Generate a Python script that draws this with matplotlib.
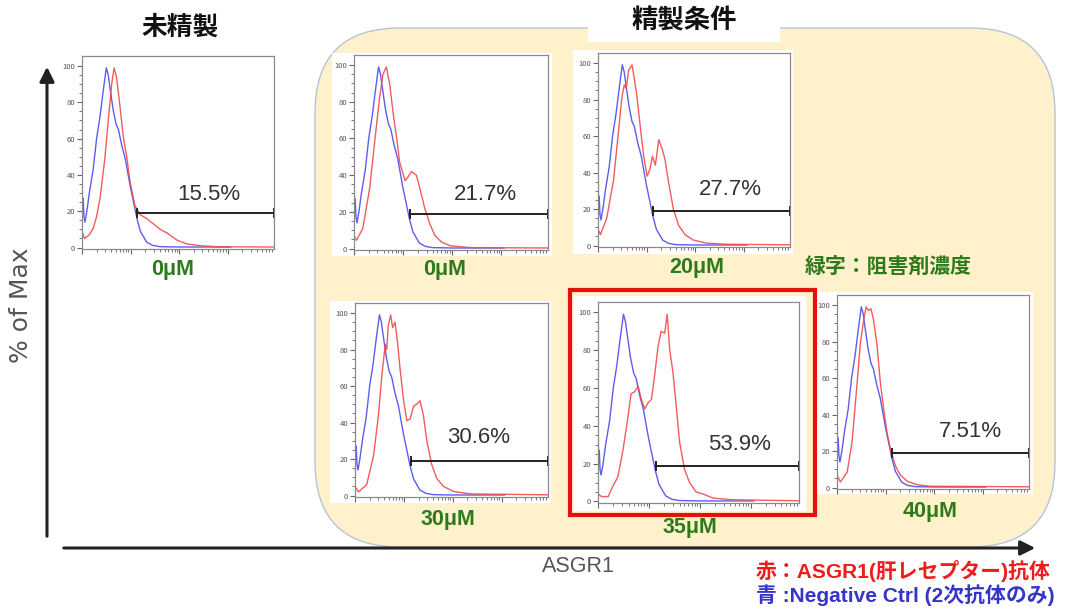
import matplotlib
matplotlib.use("Agg")
import matplotlib.pyplot as plt
from matplotlib.patches import FancyBboxPatch, Rectangle
from matplotlib.ticker import FixedLocator, NullFormatter
import numpy as np

plt.rcParams['font.family'] = ['Noto Sans CJK JP', 'DejaVu Sans']

# ---- data: ASGR1 staining histograms (% of Max vs. log fluorescence, decades) ----
BLUE_X = [0.0, 0.0, 0.01, 0.025, 0.04, 0.06, 0.10, 0.15, 0.23, 0.30, 0.37, 0.44, 0.50, 0.54,
          0.57, 0.64, 0.70, 0.75, 0.82, 0.89, 0.99, 1.06, 1.13, 1.20, 1.33, 1.45, 1.60, 2.0,
          2.5, 3.06]
BLUE_Y = [0, 55, 20, 27, 17, 14, 20, 30, 43, 60, 72, 87, 99, 95,
          89, 76, 68, 65, 56, 49, 34, 25, 16, 9, 3, 1.2, 0.5, 0.3,
          0.3, 0.3]

RED_UNPURIFIED_X = [0, 0.05, 0.15, 0.23, 0.30, 0.37, 0.47, 0.54, 0.61, 0.66, 0.71, 0.78, 0.85,
                    0.92, 0.99, 1.09, 1.20, 1.33, 1.47, 1.61, 1.75, 1.96, 2.16, 2.44, 2.79, 3.95]
RED_UNPURIFIED_Y = [9, 5, 7, 10.5, 17, 27, 49, 70, 90, 99, 94, 78, 61,
                    50, 36, 23, 18, 16, 13, 10, 8, 4, 2, 1, 0.4, 0.3]

RED_0UM_X = [0, 0.05, 0.18, 0.32, 0.42, 0.52, 0.59, 0.66, 0.73, 0.80, 0.87, 0.93, 1.04, 1.10,
             1.17, 1.27, 1.34, 1.44, 1.55, 1.65, 1.78, 1.96, 2.36, 3.95]
RED_0UM_Y = [7, 4.5, 11, 33, 58, 82, 95, 99, 89, 73, 60, 47, 37, 39,
             42, 40, 33, 22, 13, 7, 3.6, 1.5, 0.5, 0.3]

RED_20UM_X = [0, 0.05, 0.18, 0.32, 0.42, 0.49, 0.54, 0.58, 0.63, 0.70, 0.75, 0.80, 0.87, 0.94,
              1.01, 1.07, 1.12, 1.18, 1.25, 1.32, 1.38, 1.45, 1.55, 1.66, 1.79, 1.96, 2.24,
              2.65, 3.95]
RED_20UM_Y = [9, 6, 15, 36, 62, 81, 88, 86, 96, 99, 91, 82, 65, 49,
              38, 42, 49, 44, 58, 53, 47, 35, 20, 11, 6, 3, 1.3,
              0.7, 0.4]

RED_30UM_X = [0, 0.07, 0.24, 0.38, 0.48, 0.55, 0.62, 0.65, 0.68, 0.73, 0.77, 0.82, 0.87, 0.92,
              0.99, 1.06, 1.13, 1.20, 1.26, 1.33, 1.40, 1.47, 1.57, 1.67, 1.81, 2.02, 2.36, 3.95]
RED_30UM_Y = [5, 2, 6, 22, 44, 66, 83, 80, 93, 99, 92, 95, 84, 70,
              53, 41, 42, 49, 50, 52, 44, 30, 17, 9.5, 5, 2.2, 0.9, 0.4]

RED_35UM_X = [0, 0.07, 0.20, 0.29, 0.39, 0.49, 0.59, 0.65, 0.72, 0.79, 0.85, 0.92, 0.98, 1.05,
              1.11, 1.18, 1.24, 1.31, 1.36, 1.41, 1.47, 1.54, 1.60, 1.70, 1.80, 1.93, 2.06,
              2.26, 2.65, 3.95]
RED_35UM_Y = [4, 2.6, 2.6, 8, 13, 27, 45, 57, 58, 61, 54, 49, 52, 54,
              66, 82, 90, 89, 99, 80, 69, 50, 32, 17, 10, 5, 4,
              1.8, 0.9, 0.4]

RED_40UM_X = [0, 0.07, 0.21, 0.31, 0.41, 0.48, 0.55, 0.60, 0.65, 0.70, 0.75, 0.82, 0.89, 0.96,
              1.03, 1.10, 1.20, 1.30, 1.44, 1.64, 1.92, 3.95]
RED_40UM_Y = [7, 3, 8.5, 25, 56, 79, 92, 99, 97, 98, 92, 79, 58, 43,
              30, 21, 12, 7, 3.5, 1.6, 0.7, 0.4]

PERCENT_LABELS = ["15.5%", "21.7%", "27.7%", "30.6%", "53.9%", "7.51%"]
CONC_LABELS = ["0μM", "0μM", "20μM", "30μM", "35μM", "40μM"]
GATE_START = 1.14
GATE_LEVEL = 19
Y_TICKS = [0, 20, 40, 60, 80, 100]

RED_SERIES = [(RED_UNPURIFIED_X, RED_UNPURIFIED_Y), (RED_0UM_X, RED_0UM_Y),
              (RED_20UM_X, RED_20UM_Y), (RED_30UM_X, RED_30UM_Y),
              (RED_35UM_X, RED_35UM_Y), (RED_40UM_X, RED_40UM_Y)]

# ---- layout (pixel boxes: frame, white backing, label position) ----
W, H = 1068, 611
FRAMES = [(82, 56, 274, 249), (354, 55, 548, 250), (598, 53, 790, 247),
          (355, 303, 548, 497), (598, 302, 799, 503), (837, 295, 1029, 489)]
BACKS = [(58, 52, 278, 258), (332, 53, 552, 256), (573, 50, 793, 254),
         (330, 301, 551, 503), (574, 296, 806, 511), (817, 292, 1033, 494)]
CONC_POS = [(173, 270), (445, 270), (697, 268), (448, 520), (690, 527), (930, 511)]
PCT_POS = [(2.61, 29), (2.67, 29.5), (2.72, 30.5), (2.52, 32), (2.79, 30), (2.74, 30.5)]

GREEN = '#2d7a1a'
RED = '#f24a4a'
BLUE = '#4b4bef'
XMAX = 3.95
LATIN = ['Liberation Sans', 'Noto Sans CJK JP', 'DejaVu Sans']

fig = plt.figure(figsize=(W / 100, H / 100), dpi=100)
bg = fig.add_axes([0, 0, 1, 1])
bg.set_xlim(0, W)
bg.set_ylim(H, 0)
bg.axis('off')

# rounded background for the purification conditions
bg.add_patch(FancyBboxPatch((315, 28), 1055 - 315, 547 - 28,
                            boxstyle="round,pad=0,rounding_size=85",
                            facecolor='#fff1cc', edgecolor='#b9c3d6', lw=1.0))
bg.add_patch(Rectangle((588, 0), 192, 42, facecolor='white', edgecolor='none'))

for (x0, y0, x1, y1) in BACKS:
    bg.add_patch(Rectangle((x0, y0), x1 - x0, y1 - y0, facecolor='white', edgecolor='none'))
bg.add_patch(Rectangle((570, 290), 245, 225, facecolor='none', edgecolor='#e3120b', lw=3))

# axis arrows
bg.annotate('', xy=(47, 64), xytext=(47, 539),
            arrowprops=dict(arrowstyle='-|>', lw=2.2, color='#222222', mutation_scale=22))
bg.annotate('', xy=(1038, 548), xytext=(61, 548),
            arrowprops=dict(arrowstyle='-|>', lw=2.2, color='#222222', mutation_scale=22))

bg.text(21, 305, '% of Max', rotation=90, ha='center', va='center', fontsize=18,
        color='#555555', family=['DejaVu Sans'])
bg.text(578, 566, 'ASGR1', ha='center', va='center', fontsize=15.5,
        color='#555555', family=LATIN)

bg.text(180, 27, '未精製', ha='center', va='center', fontsize=18.5, fontweight='bold', color='#111111')
bg.text(684, 21, '精製条件', ha='center', va='center', fontsize=19, fontweight='bold', color='#111111')
bg.text(888, 266, '緑字：阻害剤濃度', ha='center', va='center', fontsize=15,
        fontweight='bold', color=GREEN)
bg.text(756, 571, '赤：ASGR1(肝レセプター)抗体', ha='left', va='center', fontsize=15,
        fontweight='bold', color='#f01c1c', family=LATIN)
bg.text(756, 595, '青 :Negative Ctrl (2次抗体のみ)', ha='left', va='center', fontsize=15,
        fontweight='bold', color='#3535c8', family=LATIN)

for (cx, cy), lab in zip(CONC_POS, CONC_LABELS):
    bg.text(cx, cy, lab, ha='center', va='center', fontsize=15.5, fontweight='bold',
            color=GREEN, family=LATIN)

# log-decade tick positions for the fluorescence axis
major_x = [0, 1, 2, 3]
minor_x = [d + np.log10(k) for d in range(4) for k in range(2, 10) if d + np.log10(k) < XMAX]

for i, (x0, y0, x1, y1) in enumerate(FRAMES):
    ax = fig.add_axes([x0 / W, 1 - y1 / H, (x1 - x0) / W, (y1 - y0) / H])
    ax.set_facecolor('white')
    rx, ry = RED_SERIES[i]
    ax.plot(BLUE_X, BLUE_Y, color=BLUE, lw=1.0, alpha=0.9)
    ax.plot(rx, ry, color=RED, lw=1.0, alpha=0.9)
    ax.plot([GATE_START, XMAX], [GATE_LEVEL, GATE_LEVEL], color='#222222', lw=1.4,
            marker='|', markersize=7, markeredgewidth=1.4, clip_on=False)
    px, py = PCT_POS[i]
    ax.text(px, py, PERCENT_LABELS[i], ha='center', va='center', fontsize=16,
            color='#333333', family=LATIN)
    ax.set_xlim(0, XMAX)
    ax.set_ylim(-0.8, 105.5)
    ax.xaxis.set_major_locator(FixedLocator(major_x))
    ax.xaxis.set_minor_locator(FixedLocator(minor_x))
    ax.xaxis.set_major_formatter(NullFormatter())
    ax.yaxis.set_major_locator(FixedLocator(Y_TICKS))
    ax.yaxis.set_minor_locator(FixedLocator([v for v in range(0, 101, 5) if v % 20]))
    ax.tick_params(axis='both', which='major', length=3.5, width=0.8, color='#666666',
                   labelsize=5.5, labelcolor='#555555', pad=1.5)
    ax.tick_params(axis='both', which='minor', length=2, width=0.7, color='#777777')
    for s in ax.spines.values():
        s.set_color('#8a8a8a')
        s.set_linewidth(0.9)

fig.savefig('out.png', dpi=100)
